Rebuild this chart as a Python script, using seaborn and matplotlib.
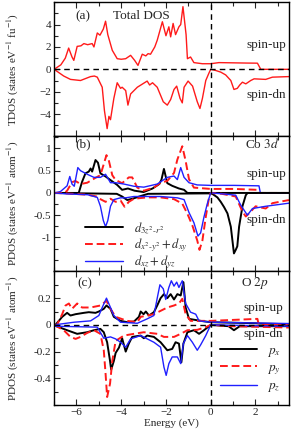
import numpy as np
import pandas as pd
import matplotlib
matplotlib.use("Agg")
import matplotlib.pyplot as plt
import seaborn as sns
from matplotlib.ticker import MultipleLocator, FixedLocator

sns.set_theme(style="ticks")
plt.rcParams['font.family'] = ['Liberation Serif', 'DejaVu Serif']
plt.rcParams['mathtext.fontset'] = 'stix'
plt.rcParams['xtick.direction'] = 'in'
plt.rcParams['ytick.direction'] = 'in'

# ---------------- Data ----------------
# Panel (a) Total DOS
E_tot_up = [-7.0,-6.7,-6.5,-6.35,-6.2,-6.12,-5.97,-5.8,-5.67,-5.5,-5.3,-5.22,-5.07,-4.95,-4.8,-4.7,-4.6,-4.4,-4.18,-4.0,-3.8,-3.58,-3.4,-3.25,-3.06,-2.9,-2.8,-2.69,-2.5,-2.39,-2.16,-2.0,-1.87,-1.79,-1.68,-1.57,-1.42,-1.34,-1.24,-1.1,-1.04,-0.9,-0.75,-0.37,0.0,0.37,1.0,1.6,2.09,2.24,2.5,3.5]
tot_up   = [0.0,0.4,1.0,1.9,1.1,0.8,2.05,2.1,2.3,2.2,2.3,2.0,3.25,3.05,3.6,4.3,3.1,1.7,0.95,0.9,0.95,1.25,0.8,0.35,1.35,1.2,1.4,1.35,2.0,2.6,4.25,3.0,3.8,2.9,4.1,3.1,3.8,4.0,5.6,3.1,0.95,1.1,0.6,0.5,0.5,0.6,0.58,0.56,0.55,0.0,0.0,0.0]
E_tot_dn = [-7.0,-6.57,-6.27,-5.82,-5.5,-5.37,-5.2,-5.07,-4.85,-4.75,-4.63,-4.55,-4.48,-4.33,-4.18,-4.03,-3.96,-3.8,-3.7,-3.58,-3.28,-2.84,-2.73,-2.6,-2.39,-2.12,-1.94,-1.79,-1.64,-1.52,-1.37,-1.27,-1.19,-1.01,-0.81,-0.6,-0.48,-0.37,-0.22,-0.07,0.0,0.22,0.45,0.67,0.9,1.04,1.19,1.3,1.42,1.57,1.79,1.94,2.46,2.76,3.5]
tot_dn   = [0.0,-0.6,-0.9,-1.0,-0.75,-0.65,-0.6,-0.7,-1.6,-3.7,-5.3,-4.2,-4.5,-2.6,-1.2,-1.7,-1.6,-1.9,-3.2,-2.2,-1.6,-1.05,-1.4,-1.2,-1.6,-2.9,-3.2,-2.7,-1.8,-1.5,-2.6,-3.0,-1.6,-1.05,-1.5,-2.9,-3.5,-2.6,-1.0,-0.3,0.0,-0.1,-0.25,-0.5,-1.0,-1.8,-1.7,-1.4,-1.15,-1.3,-1.0,-0.85,-0.9,-0.7,-0.65]

# Panel (b) Co 3d
E_b_k_up = [-7.0,-5.9,-5.75,-5.6,-5.45,-5.37,-5.3,-5.15,-5.04,-4.93,-4.7,-4.4,-4.18,-3.96,-3.7,-3.4,-3.0,-2.6,-2.3,-2.2,-2.09,-1.94,-1.72,-1.42,-1.19,-1.04,-0.8,3.5]
b_k_up   = [0,0,0.25,0.44,0.48,0.55,0.48,0.74,0.68,0.44,0.37,0.26,0.18,0.07,0.1,0.05,0.02,0.1,0.2,0.3,0.54,0.22,0.16,0.1,0.07,0.0,0.0,0.0]
E_b_k_dn = [-7.0,-4.2,-3.96,-3.73,-3.43,-3.13,-2.8,-0.1,0.07,0.3,0.45,0.6,0.75,0.9,0.97,1.04,1.12,1.19,1.27,1.42,1.57,1.65,3.5]
b_k_dn   = [0,-0.02,-0.08,-0.16,-0.12,-0.07,-0.02,-0.01,-0.02,-0.1,-0.2,-0.32,-0.46,-0.76,-1.06,-1.36,-1.28,-1.2,-0.76,-0.3,-0.05,0,0]
E_b_r_up = [-7.0,-6.55,-6.42,-6.2,-6.05,-5.82,-5.52,-5.15,-4.93,-4.66,-4.55,-4.4,-4.25,-3.96,-3.66,-3.51,-3.28,-2.99,-2.54,-2.24,-1.94,-1.64,-1.49,-1.27,-1.12,-0.97,-0.75,0.0,1.04,2.09,2.12,3.5]
b_r_up   = [0,0,0.05,0.24,0.27,0.2,0.23,0.34,0.4,0.85,0.72,0.4,0.29,0.22,0.35,0.35,0.12,0.05,0.12,0.23,0.27,0.45,0.75,1.05,0.72,0.31,0.12,0.09,0.09,0.07,0,0]
E_b_r_dn = [-7.0,-6.5,-5.5,-5.1,-4.93,-4.7,-4.48,-4.25,-4.03,-3.85,-3.66,-3.43,-2.84,-2.24,-1.64,-1.27,-1.04,-0.82,-0.6,-0.5,-0.37,-0.22,-0.07,0.0,0.5,1.12,1.42,1.57,1.79,2.01,2.46,2.76,3.5]
b_r_dn   = [0,-0.01,-0.04,-0.08,-0.14,-0.2,-0.13,-0.2,-0.17,-0.31,-0.2,-0.13,-0.1,-0.1,-0.14,-0.24,-0.47,-0.73,-1.07,-1.28,-1.07,-0.54,-0.09,0.0,-0.02,-0.08,-0.42,-0.53,-0.42,-0.3,-0.35,-0.23,-0.16]
E_b_b_up = [-7.0,-6.72,-6.42,-6.3,-6.2,-6.1,-5.94,-5.82,-5.52,-5.22,-4.93,-4.7,-4.48,-4.25,-3.88,-3.43,-2.99,-2.39,-1.94,-1.64,-1.49,-1.34,-1.19,-0.97,-0.6,0.0,1.04,2.16,2.22,3.5]
b_b_up   = [0,0.03,0.16,0.37,0.2,0.15,0.57,0.5,0.42,0.35,0.35,0.42,0.23,0.23,0.2,0.15,0.13,0.2,0.35,0.38,0.3,0.57,0.35,0.23,0.18,0.17,0.17,0.16,0,0]
E_b_b_dn = [-7.0,-6.5,-5.5,-5.07,-4.93,-4.8,-4.7,-4.6,-4.48,-4.33,-4.03,-3.8,-3.43,-2.24,-1.49,-1.19,-0.97,-0.75,-0.57,-0.45,-0.3,-0.15,0.0,0.5,1.12,1.34,1.64,1.87,2.46,3.5]
b_b_dn   = [0,-0.02,-0.04,-0.1,-0.3,-0.62,-0.76,-0.62,-0.3,-0.15,-0.11,-0.11,-0.08,-0.08,-0.11,-0.15,-0.44,-0.67,-0.97,-0.9,-0.54,-0.24,0.0,-0.02,-0.05,-0.27,-0.5,-0.35,-0.3,-0.23]

# Panel (c) O 2p
E_c_k_up = [-7.0,-6.94,-6.64,-6.42,-6.27,-6.04,-5.67,-5.45,-5.15,-5.0,-4.78,-4.66,-4.48,-4.33,-4.03,-3.73,-3.43,-3.21,-3.13,-3.0,-2.9,-2.76,-2.54,-2.39,-2.24,-2.09,-1.94,-1.79,-1.64,-1.49,-1.34,-1.22,-1.12,-0.97,-0.45,0.0,1.94,2.2,3.5]
c_k_up   = [0,0,0.06,0.09,0.07,0.08,0.09,0.095,0.09,0.1,0.12,0.145,0.12,0.06,0.03,0.02,0.025,0.06,0.1,0.08,0.1,0.07,0.095,0.145,0.2,0.23,0.2,0.23,0.19,0.23,0.22,0.32,0.13,0.045,0.03,0.02,0.0125,0.01,0.005]
E_c_k_dn = [-7.0,-6.9,-6.42,-5.97,-5.52,-5.22,-4.93,-4.78,-4.63,-4.5,-4.45,-4.33,-4.25,-4.1,-3.96,-3.8,-3.66,-3.51,-3.13,-2.99,-2.84,-2.54,-2.24,-1.94,-1.72,-1.57,-1.42,-1.31,-1.22,-1.04,-0.75,-0.52,-0.3,0.0,0.8,1.04,1.3,3.5]
c_k_dn   = [0,-0.01,-0.04,-0.067,-0.055,-0.04,-0.03,-0.055,-0.13,-0.27,-0.335,-0.27,-0.21,-0.17,-0.1,-0.2,-0.14,-0.09,-0.08,-0.1,-0.08,-0.09,-0.13,-0.19,-0.18,-0.13,-0.14,-0.28,-0.14,-0.055,-0.04,-0.067,-0.04,0.0,-0.01,-0.04,-0.01,-0.01]
E_c_r_up = [-7.0,-6.87,-6.64,-6.49,-6.34,-6.2,-5.97,-5.75,-5.37,-4.93,-4.66,-4.48,-4.25,-3.73,-3.28,-3.13,-2.84,-2.54,-2.24,-1.94,-1.64,-1.42,-1.27,-1.12,-0.9,0.0,2.09,2.15,3.5]
c_r_up   = [0,0,0.08,0.145,0.16,0.12,0.16,0.13,0.13,0.145,0.18,0.12,0.06,0.03,0.02,0.06,0.07,0.08,0.105,0.13,0.145,0.16,0.195,0.08,0.03,0.03,0.045,0.0,0.0]
E_c_r_dn = [-7.0,-6.57,-6.27,-6.04,-5.82,-5.52,-5.22,-4.93,-4.78,-4.7,-4.63,-4.5,-4.4,-4.25,-3.88,-3.43,-2.99,-2.39,-2.09,-1.64,-1.34,-1.04,-0.6,-0.22,0.0,1.0,3.5]
c_r_dn   = [0,-0.04,-0.09,-0.105,-0.09,-0.06,-0.04,-0.067,-0.19,-0.365,-0.54,-0.44,-0.27,-0.12,-0.08,-0.067,-0.055,-0.067,-0.09,-0.09,-0.067,-0.04,-0.037,-0.017,0.0,-0.01,-0.02]
E_c_b_up = [-7.0,-6.1,-5.37,-5.0,-4.85,-4.66,-4.48,-4.33,-4.03,-3.28,-2.84,-2.54,-2.39,-2.27,-2.12,-2.01,-1.87,-1.76,-1.64,-1.52,-1.42,-1.27,-1.12,-0.9,-0.67,-0.52,0.0,3.5]
c_b_up   = [0,0.02,0.03,0.07,0.13,0.2,0.13,0.07,0.02,0.012,0.045,0.07,0.2,0.3,0.27,0.19,0.28,0.33,0.29,0.32,0.28,0.33,0.16,0.095,0.08,0.03,0.02,0.01]
E_c_b_dn = [-7.0,-5.07,-4.78,-4.48,-4.25,-4.03,-3.8,-3.58,-3.13,-2.54,-2.24,-2.09,-1.99,-1.87,-1.72,-1.49,-1.34,-1.22,-1.04,-0.82,-0.6,-0.45,-0.22,0.0,3.5]
c_b_dn   = [-0.01,-0.017,-0.1,-0.09,-0.105,-0.13,-0.167,-0.105,-0.08,-0.13,-0.167,-0.316,-0.378,-0.29,-0.24,-0.24,-0.29,-0.14,-0.08,-0.13,-0.19,-0.15,-0.08,0.0,-0.01]

labels_b = [r"$d_{3z^2\text{-}r^2}$", r"$d_{x^2\text{-}y^2}+d_{xy}$", r"$d_{xz}+d_{yz}$"]
labels_c = [r"$p_x$", r"$p_y$", r"$p_z$"]

# ---------------- Plot ----------------
fig, axes = plt.subplots(3, 1, figsize=(2.91, 4.36), dpi=100, sharex=True)
fig.subplots_adjust(left=0.186, right=0.993, top=0.995, bottom=0.071, hspace=0)
FS = 8
FA = 9.5

def line(ax, x, y, color, ls='-', lw=1.0, label=None):
    sns.lineplot(x=x, y=y, ax=ax, color=color, linestyle=ls, linewidth=lw,
                 sort=False, estimator=None, errorbar=None, label=label, legend=False)

RED = '#ff1a1a'
BLUE = '#2020ff'
# (a)
ax = axes[0]
line(ax, E_tot_up, tot_up, RED, lw=1.0)
line(ax, E_tot_dn, tot_dn, RED, lw=1.0)
ax.axhline(0, color='black', ls=(0, (4, 3)), lw=1.0)
ax.set_ylim(-6, 6)
ax.yaxis.set_major_locator(FixedLocator([-4, -2, 0, 2, 4]))
ax.yaxis.set_minor_locator(MultipleLocator(1))
ax.set_ylabel(r"TDOS (states eV$^{-1}$ fu$^{-1}$)", fontsize=FS)
ax.text(-5.7, 4.75, "(a)", fontsize=FA, ha='center', va='center')
ax.text(-3.1, 4.75, "Total DOS", fontsize=FA, ha='center', va='center')
ax.text(2.47, 2.15, "spin-up", fontsize=FA, ha='center', va='center')
ax.text(2.47, -2.3, "spin-dn", fontsize=FA, ha='center', va='center')

# (b)
ax = axes[1]
line(ax, E_b_k_up, b_k_up, 'black', lw=1.4, label=labels_b[0])
line(ax, E_b_r_up, b_r_up, RED, ls=(0, (4, 2)), lw=1.4, label=labels_b[1])
line(ax, E_b_b_up, b_b_up, BLUE, lw=1.0, label=labels_b[2])
line(ax, E_b_k_dn, b_k_dn, 'black', lw=1.4)
line(ax, E_b_r_dn, b_r_dn, RED, ls=(0, (4, 2)), lw=1.4)
line(ax, E_b_b_dn, b_b_dn, BLUE, lw=1.0)
ax.set_ylim(-1.75, 1.27)
ax.yaxis.set_major_locator(FixedLocator([-1, -0.5, 0, 0.5, 1]))
ax.yaxis.set_minor_locator(MultipleLocator(0.25))
ax.set_yticklabels(["-1", "-0.5", "0", "0.5", "1"])
ax.set_ylabel(r"PDOS (states eV$^{-1}$ atom$^{-1}$)", fontsize=FS)
ax.text(-5.7, 1.09, "(b)", fontsize=FA, ha='center', va='center')
ax.text(2.3, 1.09, r"Co $\mathit{3d}$", fontsize=FA, ha='center', va='center')
ax.text(2.47, 0.43, "spin-up", fontsize=FA, ha='center', va='center')
ax.text(2.47, -0.61, "spin-dn", fontsize=FA, ha='center', va='center')
h, l = ax.get_legend_handles_labels()
ax.legend(h, l, loc='upper left', bbox_to_anchor=(0.1, 0.43), frameon=False,
          fontsize=9, handlelength=3.0, labelspacing=0.0, borderpad=0.1, handletextpad=0.9)

# (c)
ax = axes[2]
line(ax, E_c_k_up, c_k_up, 'black', lw=1.4, label=labels_c[0])
line(ax, E_c_r_up, c_r_up, RED, ls=(0, (4, 2)), lw=1.4, label=labels_c[1])
line(ax, E_c_b_up, c_b_up, BLUE, lw=1.0, label=labels_c[2])
line(ax, E_c_k_dn, c_k_dn, 'black', lw=1.4)
line(ax, E_c_r_dn, c_r_dn, RED, ls=(0, (4, 2)), lw=1.4)
line(ax, E_c_b_dn, c_b_dn, BLUE, lw=1.0)
ax.axhline(0, color='black', ls=(0, (4, 3)), lw=1.0)
ax.set_ylim(-0.6, 0.405)
ax.yaxis.set_major_locator(FixedLocator([-0.4, -0.2, 0, 0.2]))
ax.yaxis.set_minor_locator(MultipleLocator(0.1))
ax.set_yticklabels(["-0.4", "-0.2", "0", "0.2"])
ax.set_ylabel(r"PDOS (states eV$^{-1}$ atom$^{-1}$)", fontsize=FS)
ax.text(-5.64, 0.315, "(c)", fontsize=FA, ha='center', va='center')
ax.text(1.97, 0.31, r"O $\mathit{2p}$", fontsize=FA, ha='center', va='center')
ax.text(2.35, 0.124, "spin-up", fontsize=FA, ha='center', va='center')
ax.text(2.35, -0.072, "spin-dn", fontsize=FA, ha='center', va='center')
h, l = ax.get_legend_handles_labels()
ax.legend(h, l, loc='lower right', bbox_to_anchor=(1.0, 0.02), frameon=False,
          fontsize=9.5, handlelength=2.8, labelspacing=0.25, borderpad=0.1, handletextpad=0.8)
ax.set_xlabel("Energy (eV)", fontsize=FS, labelpad=1)

for ax in axes:
    ax.set_xlim(-7, 3.5)
    ax.axvline(0, color='black', ls=(0, (4, 3)), lw=1.0)
    ax.xaxis.set_major_locator(FixedLocator([-6, -4, -2, 0, 2]))
    ax.xaxis.set_minor_locator(MultipleLocator(1))
    ax.tick_params(axis='both', which='both', direction='in', top=True, labelsize=FS,
                   pad=2, width=0.8)
    ax.tick_params(which='major', length=4)
    ax.tick_params(which='minor', length=3)
    ax.yaxis.set_label_coords(-0.14, 0.5)
    for s in ax.spines.values():
        s.set_linewidth(1.0)
        s.set_color('black')

fig.savefig("out.png", dpi=100)
